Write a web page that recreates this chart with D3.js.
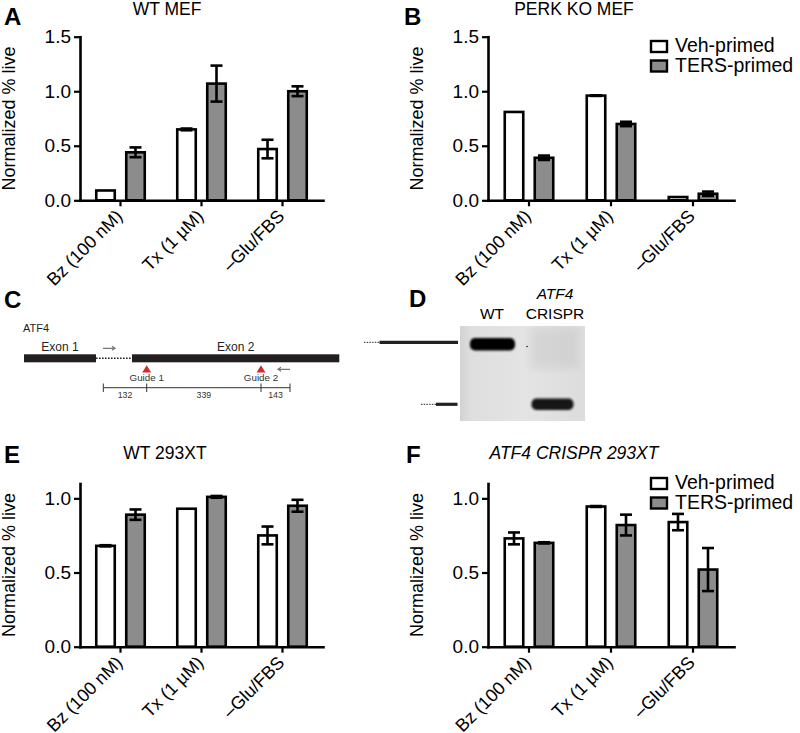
<!DOCTYPE html>
<html><head><meta charset="utf-8">
<script src="https://cdn.jsdelivr.net/npm/d3@7"></script>
<style>
body{margin:0;background:#fff;}
svg{display:block;font-family:"Liberation Sans",Arial,Helvetica,sans-serif;}
</style>
</head><body>
<svg id="fig" width="800" height="733"></svg>
<script>
// ---------- data ----------
const categories = ["Bz (100 nM)", "Tx (1 \u00b5M)", "\u2013Glu/FBS"];
const seriesNames = ["Veh-primed", "TERS-primed"];

// A: WT MEF
const wtMefVeh = [0.09, 0.65, 0.47];
const wtMefVehErr = [0.0, 0.008, 0.085];
const wtMefTers = [0.44, 1.07, 1.00];
const wtMefTersErr = [0.045, 0.165, 0.045];
// B: PERK KO MEF
const perkVeh = [0.81, 0.96, 0.03];
const perkVehErr = [0.0, 0.003, 0.0];
const perkTers = [0.39, 0.70, 0.06];
const perkTersErr = [0.02, 0.02, 0.02];
// E: WT 293XT
const wt293Veh = [0.68, 0.93, 0.75];
const wt293VehErr = [0.004, 0.0, 0.06];
const wt293Ters = [0.89, 1.01, 0.95];
const wt293TersErr = [0.035, 0.006, 0.04];
// F: ATF4 CRISPR 293XT
const crisprVeh = [0.73, 0.945, 0.84];
const crisprVehErr = [0.04, 0.003, 0.055];
const crisprTers = [0.70, 0.82, 0.52];
const crisprTersErr = [0.004, 0.07, 0.145];

const yTicksMef = [0, 0.5, 1.0, 1.5];
const yTicks293 = [0, 0.5, 1.0];

// C: ATF4 schematic
const exonLabels = ["Exon 1", "Exon 2"];
const guideLabels = ["Guide 1", "Guide 2"];
const fragmentLengths = [132, 339, 143];
// D: gel
const gelLanes = ["WT", "CRISPR"];

// ---------- drawing ----------
const svg = d3.select("#fig");
const fills = {"Veh-primed": "#ffffff", "TERS-primed": "#8c8c8c"};

function barPanel(cfg) {
  const g = svg.append("g");
  const x0 = d3.scaleBand().domain(categories).range([cfg.x0, cfg.x1]);
  const bw = x0.bandwidth();
  const inner = d3.scaleBand().domain(seriesNames)
    .range([bw / 2 - 24.25, bw / 2 + 24.25]).paddingInner(0.383);
  const y = d3.scaleLinear().domain([0, cfg.ymax]).range([cfg.yb, cfg.yt]);

  const rows = categories.map((c, i) => ({
    cat: c,
    vals: [
      {s: seriesNames[0], v: cfg.veh[i], e: cfg.vehErr[i]},
      {s: seriesNames[1], v: cfg.ters[i], e: cfg.tersErr[i]}
    ]
  }));

  const grp = g.selectAll("g.grp").data(rows).join("g")
    .attr("transform", d => `translate(${x0(d.cat)},0)`);
  grp.selectAll("rect").data(d => d.vals).join("rect")
    .attr("x", d => inner(d.s))
    .attr("width", inner.bandwidth())
    .attr("y", d => y(d.v))
    .attr("height", d => y(0) - y(d.v))
    .attr("fill", d => fills[d.s])
    .attr("stroke", "#000").attr("stroke-width", 2.6);
  const eb = grp.selectAll("g.eb").data(d => d.vals.filter(v => v.e > 0)).join("g")
    .attr("stroke", "#000").attr("stroke-width", 2.6).attr("fill", "none");
  eb.append("line")
    .attr("x1", d => inner(d.s) + inner.bandwidth() / 2)
    .attr("x2", d => inner(d.s) + inner.bandwidth() / 2)
    .attr("y1", d => y(d.v - d.e)).attr("y2", d => y(d.v + d.e));
  eb.append("line")
    .attr("x1", d => inner(d.s) + inner.bandwidth() / 2 - 6)
    .attr("x2", d => inner(d.s) + inner.bandwidth() / 2 + 6)
    .attr("y1", d => y(d.v + d.e)).attr("y2", d => y(d.v + d.e));
  eb.append("line")
    .attr("x1", d => inner(d.s) + inner.bandwidth() / 2 - 6)
    .attr("x2", d => inner(d.s) + inner.bandwidth() / 2 + 6)
    .attr("y1", d => y(d.v - d.e)).attr("y2", d => y(d.v - d.e));

  // axes
  const ya = g.append("g").attr("transform", `translate(${cfg.x0},0)`)
    .call(d3.axisLeft(y).tickValues(cfg.ticks).tickFormat(d3.format(".1f"))
      .tickSize(6).tickSizeOuter(0).tickPadding(3));
  const xa = g.append("g").attr("transform", `translate(0,${cfg.yb})`)
    .call(d3.axisBottom(x0).tickSize(6).tickSizeOuter(0));
  [ya, xa].forEach(a => {
    a.select(".domain").attr("stroke-width", 2.6).attr("stroke-linecap", "square");
    a.selectAll(".tick line").attr("stroke-width", 2.2);
    a.selectAll("text").attr("fill", "#000").attr("font-family", "Liberation Sans, Arial, sans-serif");
  });
  ya.selectAll("text").attr("font-size", 19);
  xa.selectAll("text").attr("font-size", 18)
    .attr("text-anchor", "end").attr("dy", null).attr("y", null).attr("x", null)
    .attr("transform", "translate(3,17) rotate(-45)");

  // y label
  g.append("text")
    .attr("transform", `translate(${cfg.x0 - 65},${(cfg.yb + cfg.yt) / 2}) rotate(-90)`)
    .attr("text-anchor", "middle").attr("font-size", 18).text("Normalized % live");

  // title
  g.append("text").attr("x", cfg.titleX).attr("y", cfg.titleY)
    .attr("text-anchor", "middle").attr("font-size", 17.5)
    .attr("font-style", cfg.italic ? "italic" : null).text(cfg.title);

  // panel letter
  svg.append("text").attr("x", cfg.letterX).attr("y", cfg.letterY)
    .attr("font-size", 24).attr("font-weight", "bold").text(cfg.letter);

  if (cfg.legend) {
    const lg = g.append("g").attr("transform", `translate(${cfg.legend[0]},${cfg.legend[1]})`);
    const items = lg.selectAll("g").data(seriesNames).join("g")
      .attr("transform", (d, i) => `translate(0,${i * 19.5})`);
    items.append("rect").attr("x", 0).attr("y", -11).attr("width", 16).attr("height", 11)
      .attr("fill", d => fills[d]).attr("stroke", "#000").attr("stroke-width", 2.4);
    items.append("text").attr("x", 24).attr("y", 0).attr("font-size", 19.5).text(d => d);
  }
}

barPanel({x0: 80, x1: 323, yb: 200.3, yt: 36.7, ymax: 1.5, ticks: yTicksMef,
  veh: wtMefVeh, vehErr: wtMefVehErr, ters: wtMefTers, tersErr: wtMefTersErr,
  title: "WT MEF", titleX: 167, titleY: 14.5, letter: "A", letterX: 4, letterY: 25});
barPanel({x0: 488, x1: 734, yb: 200.3, yt: 36.7, ymax: 1.5, ticks: yTicksMef,
  veh: perkVeh, vehErr: perkVehErr, ters: perkTers, tersErr: perkTersErr,
  title: "PERK KO MEF", titleX: 574, titleY: 14.5, letter: "B", letterX: 404, letterY: 25,
  legend: [651, 52]});
barPanel({x0: 80, x1: 323, yb: 646.7, yt: 483.5, ymax: 1.1, ticks: yTicks293,
  veh: wt293Veh, vehErr: wt293VehErr, ters: wt293Ters, tersErr: wt293TersErr,
  title: "WT 293XT", titleX: 165, titleY: 458.5, letter: "E", letterX: 4, letterY: 463});
barPanel({x0: 488, x1: 734, yb: 646.7, yt: 483.5, ymax: 1.1, ticks: yTicks293,
  veh: crisprVeh, vehErr: crisprVehErr, ters: crisprTers, tersErr: crisprTersErr,
  title: "ATF4 CRISPR 293XT", italic: true, titleX: 574, titleY: 458.5,
  letter: "F", letterX: 406, letterY: 463, legend: [651, 489]});

// ---------- C: schematic ----------
const cg = svg.append("g");
svg.append("text").attr("x", 4).attr("y", 308).attr("font-size", 24).attr("font-weight", "bold").text("C");
cg.append("text").attr("x", 23).attr("y", 332).attr("font-size", 11).attr("fill", "#231f20").text("ATF4");
const exons = [{x: 24, w: 72}, {x: 132, w: 207.3}];
cg.selectAll("rect.exon").data(exons).join("rect")
  .attr("x", d => d.x).attr("y", 354.3).attr("width", d => d.w).attr("height", 8).attr("fill", "#231f20");
cg.selectAll("text.exon").data(exons).join("text")
  .attr("x", d => d.x + d.w / 2).attr("y", 350.5).attr("text-anchor", "middle")
  .attr("font-size", 12).attr("fill", "#231f20").text((d, i) => exonLabels[i]);
cg.append("line").attr("x1", 96).attr("x2", 132).attr("y1", 358.3).attr("y2", 358.3)
  .attr("stroke", "#231f20").attr("stroke-width", 1.5).attr("stroke-dasharray", "1.6,1.4");
cg.append("path").attr("d", "M103,348.3H115M112,346.3L115,348.3L112,350.3")
  .attr("stroke", "#777").attr("stroke-width", 1.2).attr("fill", "none");
cg.append("path").attr("d", "M290,369.3H278M281,367.3L278,369.3L281,371.3")
  .attr("stroke", "#777").attr("stroke-width", 1.2).attr("fill", "none");
const cuts = [103.3, 146.7, 261, 290];
const guides = [146.7, 261];
cg.selectAll("path.guide").data(guides).join("path")
  .attr("d", d => `M${d - 4.5},372.5L${d + 4.5},372.5L${d},365.3Z`).attr("fill", "#d42a2f");
cg.selectAll("text.guide").data(guides).join("text")
  .attr("x", d => d).attr("y", 381).attr("text-anchor", "middle").attr("font-size", 9.8)
  .attr("fill", "#333").text((d, i) => guideLabels[i]);
cg.append("line").attr("x1", cuts[0]).attr("x2", cuts[3]).attr("y1", 387.7).attr("y2", 387.7)
  .attr("stroke", "#333").attr("stroke-width", 1);
cg.selectAll("line.cut").data(cuts).join("line")
  .attr("x1", d => d).attr("x2", d => d).attr("y1", 383.5).attr("y2", 392)
  .attr("stroke", "#333").attr("stroke-width", 1);
cg.selectAll("text.len").data(fragmentLengths).join("text")
  .attr("x", (d, i) => (cuts[i] + cuts[i + 1]) / 2).attr("y", 398.3)
  .attr("text-anchor", "middle").attr("font-size", 8.8).attr("fill", "#333").text(d => d);

// ---------- D: gel ----------
const defs = svg.append("defs");
const blur = defs.append("filter").attr("id", "blur").attr("x", "-30%").attr("y", "-60%")
  .attr("width", "160%").attr("height", "220%");
blur.append("feGaussianBlur").attr("stdDeviation", 1.3);
const blur2 = defs.append("filter").attr("id", "blur2").attr("x", "-30%").attr("y", "-30%")
  .attr("width", "160%").attr("height", "160%");
blur2.append("feGaussianBlur").attr("stdDeviation", 4);
const grad = defs.append("linearGradient").attr("id", "gelgrad");
grad.append("stop").attr("offset", "0%").attr("stop-color", "#d2d2d2");
grad.append("stop").attr("offset", "8%").attr("stop-color", "#dedede");
grad.append("stop").attr("offset", "50%").attr("stop-color", "#e4e4e4");
grad.append("stop").attr("offset", "100%").attr("stop-color", "#dcdcdc");

const dg = svg.append("g");
svg.append("text").attr("x", 409).attr("y", 307).attr("font-size", 24).attr("font-weight", "bold").text("D");
dg.append("rect").attr("x", 460).attr("y", 326).attr("width", 125).attr("height", 95).attr("fill", "url(#gelgrad)");
dg.append("rect").attr("x", 530).attr("y", 328).attr("width", 48).attr("height", 40)
  .attr("fill", "#000").attr("opacity", 0.05).attr("filter", "url(#blur2)");
dg.append("rect").attr("x", 470).attr("y", 338).attr("width", 45).attr("height", 12.5).attr("rx", 5)
  .attr("fill", "#050505").attr("filter", "url(#blur)");
dg.append("rect").attr("x", 531.5).attr("y", 398.5).attr("width", 42).attr("height", 11.5).attr("rx", 5)
  .attr("fill", "#151515").attr("filter", "url(#blur)");
dg.append("circle").attr("cx", 527).attr("cy", 346.5).attr("r", 0.8).attr("fill", "#222");
dg.append("text").attr("x", 492).attr("y", 319).attr("text-anchor", "middle").attr("font-size", 15.5).text(gelLanes[0]);
dg.append("text").attr("x", 555).attr("y", 299).attr("text-anchor", "middle").attr("font-size", 15.5)
  .attr("font-style", "italic").text("ATF4");
dg.append("text").attr("x", 555).attr("y", 319).attr("text-anchor", "middle").attr("font-size", 15.5).text(gelLanes[1]);
// size markers
dg.append("line").attr("x1", 364).attr("x2", 379.5).attr("y1", 342.3).attr("y2", 342.3)
  .attr("stroke", "#222").attr("stroke-width", 1).attr("stroke-dasharray", "1.5,1.2");
dg.append("line").attr("x1", 379.5).attr("x2", 458).attr("y1", 342.3).attr("y2", 342.3)
  .attr("stroke", "#222").attr("stroke-width", 3.2);
dg.append("line").attr("x1", 421).attr("x2", 436).attr("y1", 404.3).attr("y2", 404.3)
  .attr("stroke", "#222").attr("stroke-width", 1).attr("stroke-dasharray", "1.5,1.2");
dg.append("line").attr("x1", 436).attr("x2", 457.5).attr("y1", 404.3).attr("y2", 404.3)
  .attr("stroke", "#222").attr("stroke-width", 3.2);
</script>
</body></html>
